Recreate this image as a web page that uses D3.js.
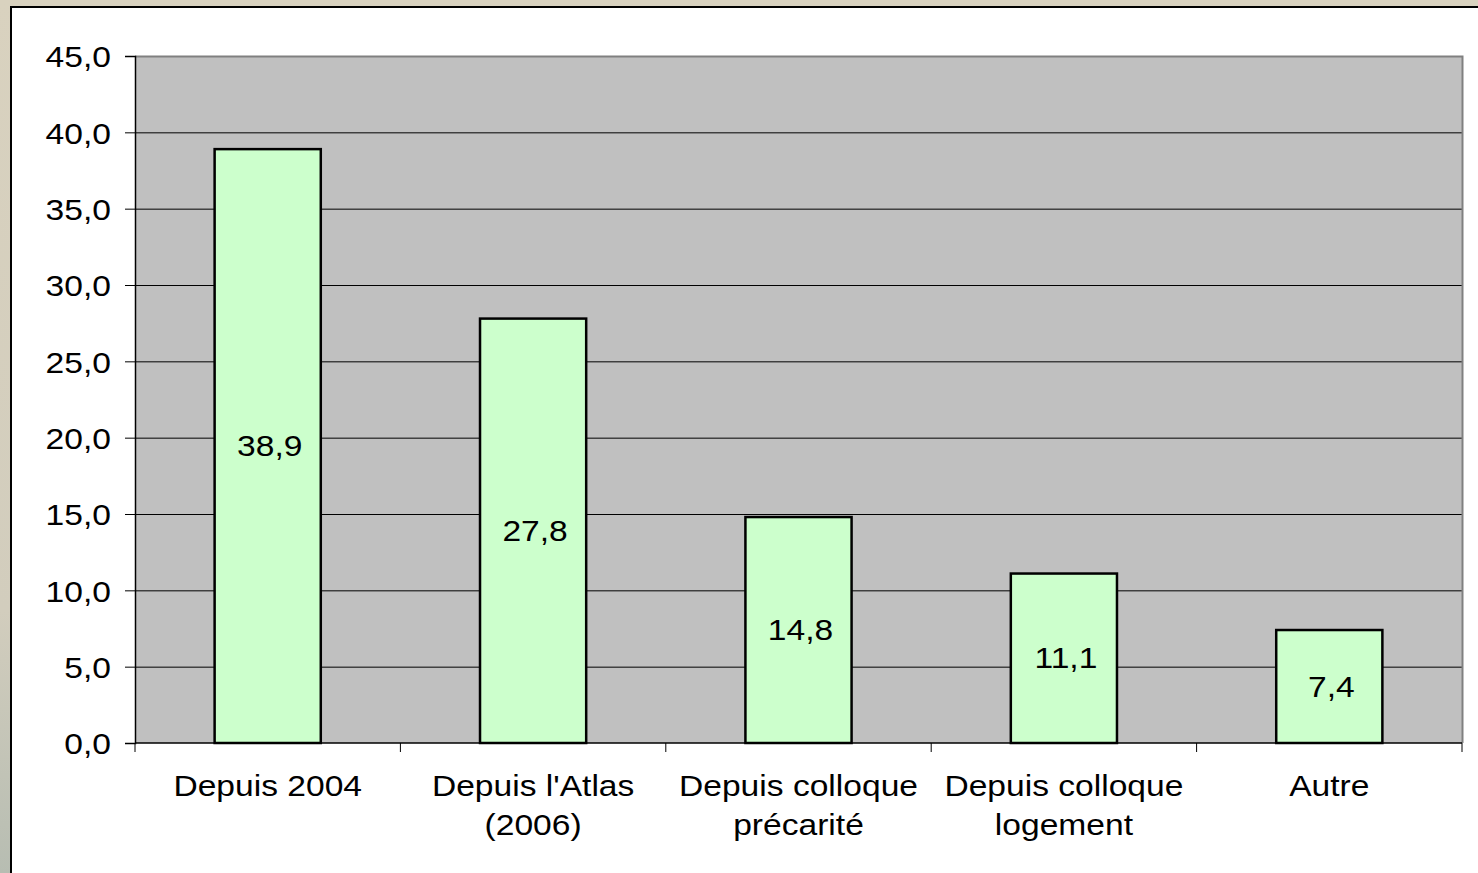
<!DOCTYPE html>
<html>
<head>
<meta charset="utf-8">
<script src="https://cdnjs.cloudflare.com/ajax/libs/d3/7.8.5/d3.min.js"></script>
<style>
  body { margin: 0; background: #d5cfbd; }
  svg { display: block; }
  text { font-family: "Liberation Sans", Arial, sans-serif; fill: #000; }
</style>
</head>
<body>
<svg id="chart"></svg>
<script>
// data
var categories = ["Depuis 2004", "Depuis l'Atlas\n(2006)", "Depuis colloque\nprécarité", "Depuis colloque\nlogement", "Autre"];
var values = [38.9, 27.8, 14.8, 11.1, 7.4];
var yTicks = [0, 5, 10, 15, 20, 25, 30, 35, 40, 45];

var w = 1478;
var h = 873;
var plot = { left: 135, right: 1462, top: 56, bottom: 743 };
var fontSize = 30;
var stretch = 1.12; // text in the picture is a bit wide

var svg = d3.select("#chart")
  .attr("width", w)
  .attr("height", h);

// textured-ish background
var defs = svg.append("defs");
var grad = defs.append("linearGradient").attr("id", "bg")
  .attr("x1", 0).attr("y1", 0).attr("x2", 0).attr("y2", 1);
grad.append("stop").attr("offset", "0%").attr("stop-color", "#d9d2bf");
grad.append("stop").attr("offset", "70%").attr("stop-color", "#d2cdbd");
grad.append("stop").attr("offset", "100%").attr("stop-color", "#b7bdb2");

svg.append("rect")
  .attr("width", w)
  .attr("height", h)
  .attr("fill", "url(#bg)");

// white chart panel
svg.append("rect")
  .attr("x", 11)
  .attr("y", 7)
  .attr("width", w + 20)
  .attr("height", h + 20)
  .attr("fill", "#fff")
  .attr("stroke", "#000")
  .attr("stroke-width", 2);

var yScale = d3.scaleLinear()
  .domain([0, 45])
  .range([plot.bottom, plot.top]);

var xScale = d3.scaleBand()
  .domain(categories)
  .range([plot.left, plot.right])
  .paddingInner(0.6)
  .paddingOuter(0.3);

// plot area
svg.append("rect")
  .attr("x", plot.left)
  .attr("y", plot.top)
  .attr("width", plot.right - plot.left)
  .attr("height", plot.bottom - plot.top)
  .attr("fill", "#c0c0c0");

// gridlines
svg.selectAll("line.grid")
  .data(yTicks.filter(function(d) { return d > 0 && d < 45; }))
  .enter()
  .append("line")
  .attr("class", "grid")
  .attr("x1", plot.left)
  .attr("x2", plot.right)
  .attr("y1", function(d) { return yScale(d) + 0.5; })
  .attr("y2", function(d) { return yScale(d) + 0.5; })
  .attr("stroke", "#000")
  .attr("stroke-width", 1);

// gray border top + right
svg.append("path")
  .attr("d", "M" + plot.left + "," + (plot.top + 0.5) + "H" + (plot.right + 0.5) + "V" + plot.bottom)
  .attr("fill", "none")
  .attr("stroke", "#808080")
  .attr("stroke-width", 2);

// bars
svg.selectAll("rect.bar")
  .data(values)
  .enter()
  .append("rect")
  .attr("class", "bar")
  .attr("x", function(d, i) { return xScale(categories[i]); })
  .attr("y", function(d) { return yScale(d); })
  .attr("width", xScale.bandwidth())
  .attr("height", function(d) { return yScale(0) - yScale(d); })
  .attr("fill", "#ccffcc")
  .attr("stroke", "#000")
  .attr("stroke-width", 2.5);

// y axis
var yAxis = d3.axisLeft(yScale)
  .tickValues(yTicks)
  .tickSize(10)
  .tickPadding(14)
  .tickFormat(function(d) { return d3.format(".1f")(d).replace(".", ","); });

var gy = svg.append("g")
  .attr("transform", "translate(" + plot.left + ",0)")
  .call(yAxis);
gy.select(".domain").attr("stroke", "#000").attr("stroke-width", 1.5);
gy.selectAll(".tick line").attr("stroke", "#000");
gy.selectAll(".tick text")
  .attr("font-size", fontSize)
  .attr("font-family", "Liberation Sans, Arial, sans-serif")
  .attr("fill", "#000")
  .attr("dy", "0.36em")
  .attr("transform", function() {
    var x = +d3.select(this).attr("x");
    return "translate(" + x + ",0) scale(" + stretch + ",1) translate(" + (-x) + ",0)";
  });

// x axis baseline + ticks at category boundaries
svg.append("line")
  .attr("x1", plot.left)
  .attr("x2", plot.right)
  .attr("y1", plot.bottom)
  .attr("y2", plot.bottom)
  .attr("stroke", "#000")
  .attr("stroke-width", 1.5);

var step = xScale.step();
svg.selectAll("line.xtick")
  .data(d3.range(categories.length + 1))
  .enter()
  .append("line")
  .attr("class", "xtick")
  .attr("x1", function(i) { return plot.left + i * step; })
  .attr("x2", function(i) { return plot.left + i * step; })
  .attr("y1", plot.bottom)
  .attr("y2", plot.bottom + 9)
  .attr("stroke", "#000")
  .attr("stroke-width", 1);

// category labels
categories.forEach(function(cat) {
  var cx = xScale(cat) + xScale.bandwidth() / 2;
  var lines = cat.split("\n");
  var t = svg.append("text")
    .attr("text-anchor", "middle")
    .attr("font-size", fontSize)
    .attr("transform", "translate(" + cx + ",796) scale(" + stretch + ",1)");
  lines.forEach(function(line, j) {
    t.append("tspan")
      .attr("x", 0)
      .attr("y", j * 39)
      .text(line);
  });
});

// value labels inside bars
svg.selectAll("text.value")
  .data(values)
  .enter()
  .append("text")
  .attr("class", "value")
  .attr("text-anchor", "middle")
  .attr("font-size", fontSize)
  .attr("transform", function(d, i) {
    var cx = xScale(categories[i]) + xScale.bandwidth() / 2 + 2;
    var cy = (yScale(d) + yScale(0)) / 2 + 10;
    return "translate(" + cx + "," + cy + ") scale(" + stretch + ",1)";
  })
  .text(function(d) { return d3.format(".1f")(d).replace(".", ","); });
</script>
</body>
</html>
